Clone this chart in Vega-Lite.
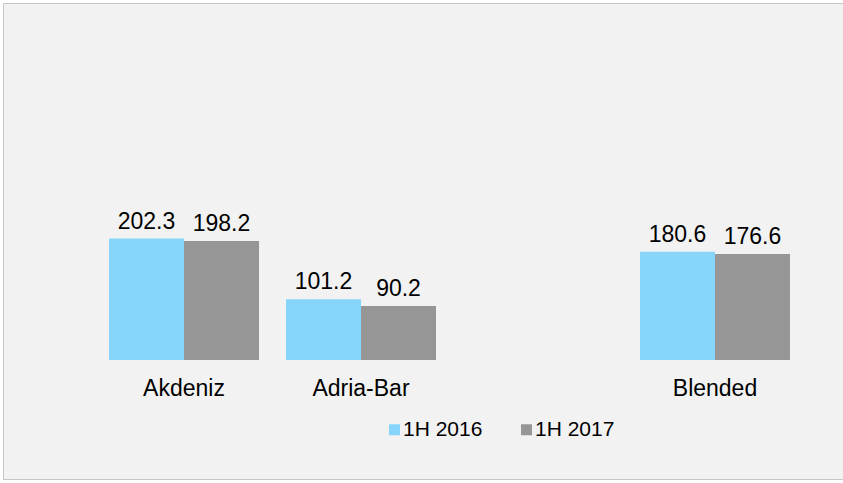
{
  "$schema": "https://vega.github.io/schema/vega-lite/v6.json",
  "width": 841,
  "height": 476,
  "autosize": {"type": "none"},
  "padding": {"left": 3, "top": 3, "right": 0, "bottom": 4},
  "background": "white",
  "config": {
    "view": {"fill": "#f2f2f2", "stroke": "#c6c6c6", "strokeWidth": 1},
    "font": "Liberation Sans"
  },
  "data": {
    "values": [
      {"region": "Akdeniz", "period": "1H 2016", "value": 202.3},
      {"region": "Akdeniz", "period": "1H 2017", "value": 198.2},
      {"region": "Adria-Bar", "period": "1H 2016", "value": 101.2},
      {"region": "Adria-Bar", "period": "1H 2017", "value": 90.2},
      {"region": "Blended", "period": "1H 2016", "value": 180.6},
      {"region": "Blended", "period": "1H 2017", "value": 176.6}
    ]
  },
  "encoding": {
    "x": {
      "field": "region",
      "type": "nominal",
      "sort": null,
      "scale": {
        "domain": ["Akdeniz", "Adria-Bar", " ", "Blended"],
        "range": [92.5, 800.5],
        "paddingInner": 0.1525,
        "paddingOuter": 0.0763
      },
      "axis": {
        "title": null,
        "labelAngle": 0,
        "domain": false,
        "ticks": false,
        "grid": false,
        "offset": -119,
        "labelPadding": 17,
        "labelFontSize": 23,
        "labelColor": "black",
        "labelFont": "Liberation Sans"
      }
    },
    "xOffset": {
      "field": "period",
      "type": "nominal",
      "scale": {"domain": ["1H 2016", "1H 2017"], "paddingInner": 0, "paddingOuter": 0}
    },
    "y": {
      "field": "value",
      "type": "quantitative",
      "scale": {"domain": [0, 500], "range": [357, 57]},
      "axis": null
    }
  },
  "layer": [
    {
      "mark": {"type": "bar"},
      "encoding": {
        "color": {
          "field": "period",
          "type": "nominal",
          "scale": {"domain": ["1H 2016", "1H 2017"], "range": ["#87d5fa", "#969696"]},
          "legend": {
            "title": null,
            "orient": "none",
            "legendX": 381,
            "legendY": 416,
            "direction": "horizontal",
            "symbolType": "square",
            "symbolSize": 121,
            "symbolStrokeWidth": 0,
            "labelFontSize": 21,
            "labelFont": "Liberation Sans",
            "labelColor": "black",
            "labelOffset": -2,
            "columnPadding": 33
          }
        }
      }
    },
    {
      "mark": {"type": "text", "dy": -10, "baseline": "alphabetic", "fontSize": 23, "color": "black", "font": "Liberation Sans"},
      "encoding": {
        "text": {"field": "value", "type": "quantitative", "format": ".1f"}
      }
    }
  ]
}
